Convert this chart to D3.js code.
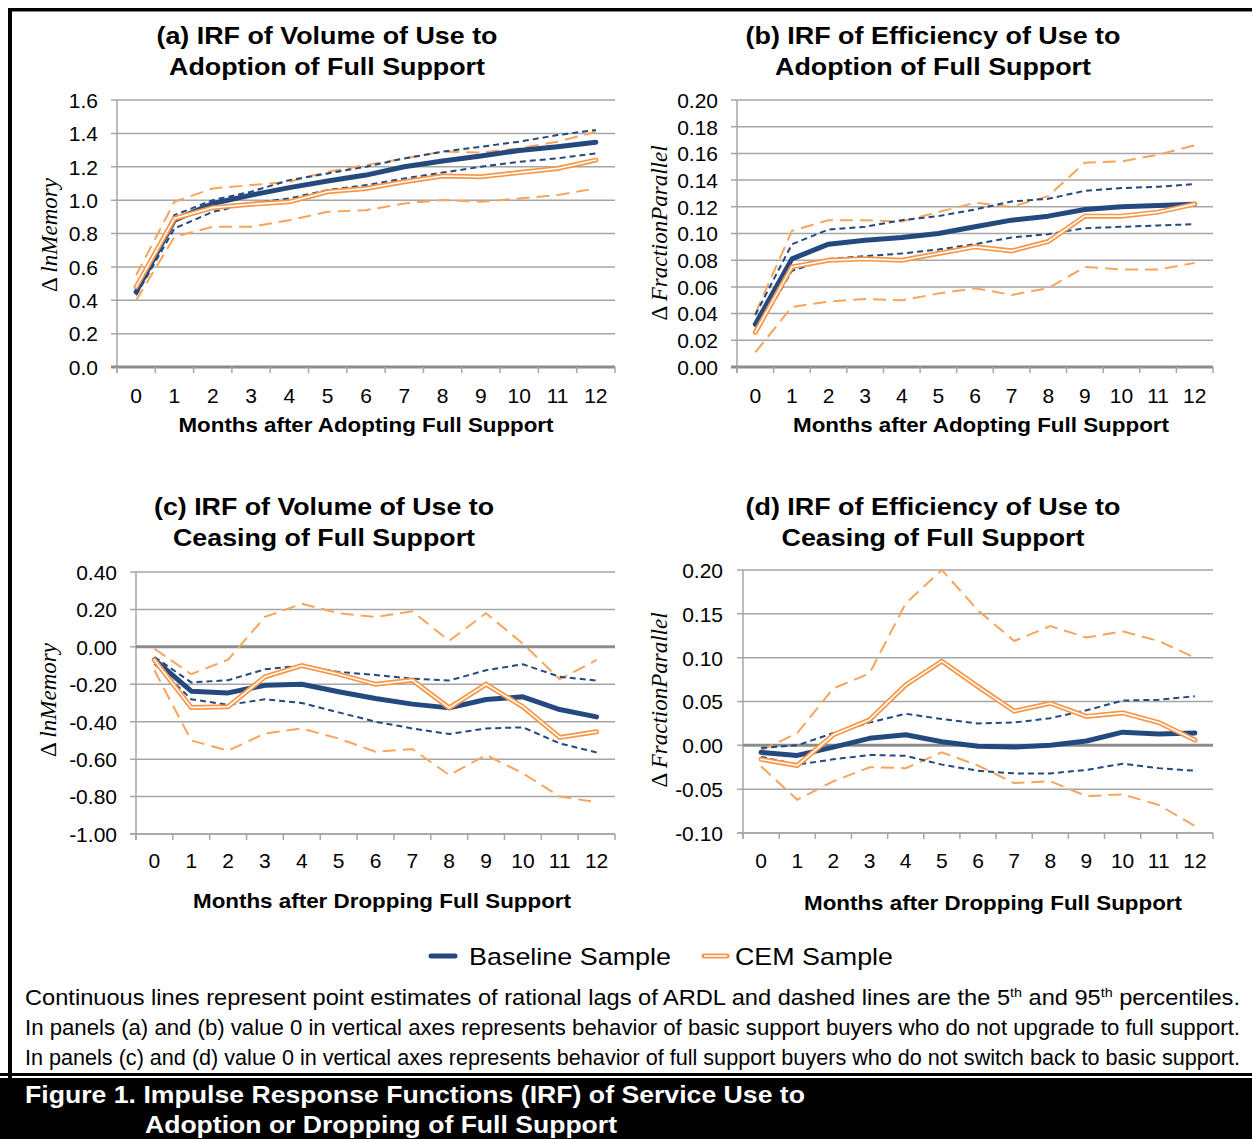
<!DOCTYPE html>
<html>
<head>
<meta charset="utf-8">
<script src="https://cdnjs.cloudflare.com/ajax/libs/d3/7.8.5/d3.min.js"></script>
<style>
  body { margin: 0; background: #fff; }
  svg { display: block; }
</style>
</head>
<body>
<div id="chart"></div>
<script>
// ---- data ----
var months = [0, 1, 2, 3, 4, 5, 6, 7, 8, 9, 10, 11, 12];

// (a) volume of use, adoption
var aBase   = [0.45, 0.88, 0.98, 1.03, 1.075, 1.115, 1.15, 1.20, 1.235, 1.265, 1.297, 1.32, 1.347];
var aBaseHi = [0.47, 0.91, 1.00, 1.05, 1.12, 1.16, 1.20, 1.25, 1.29, 1.32, 1.35, 1.39, 1.42];
var aBaseLo = [0.43, 0.83, 0.93, 0.98, 1.01, 1.06, 1.09, 1.13, 1.165, 1.20, 1.23, 1.25, 1.28];
var aCem    = [0.48, 0.89, 0.955, 0.975, 0.99, 1.05, 1.07, 1.11, 1.145, 1.14, 1.165, 1.19, 1.24];
var aCemHi  = [0.55, 0.99, 1.07, 1.09, 1.11, 1.17, 1.21, 1.25, 1.29, 1.285, 1.31, 1.35, 1.41];
var aCemLo  = [0.40, 0.78, 0.84, 0.84, 0.88, 0.93, 0.94, 0.98, 1.00, 0.99, 1.01, 1.03, 1.07];

// (b) efficiency of use, adoption
var bBase   = [0.032, 0.081, 0.092, 0.095, 0.097, 0.100, 0.105, 0.110, 0.113, 0.118, 0.120, 0.121, 0.122];
var bBaseHi = [0.039, 0.092, 0.103, 0.105, 0.110, 0.113, 0.118, 0.124, 0.126, 0.132, 0.134, 0.135, 0.137];
var bBaseLo = [0.025, 0.072, 0.081, 0.083, 0.085, 0.088, 0.092, 0.097, 0.0995, 0.104, 0.105, 0.106, 0.107];
var bCem    = [0.026, 0.075, 0.080, 0.081, 0.080, 0.085, 0.090, 0.087, 0.094, 0.113, 0.113, 0.116, 0.122];
var bCemHi  = [0.040, 0.102, 0.110, 0.110, 0.109, 0.116, 0.123, 0.120, 0.128, 0.153, 0.154, 0.159, 0.166];
var bCemLo  = [0.011, 0.045, 0.049, 0.051, 0.050, 0.055, 0.059, 0.054, 0.059, 0.075, 0.073, 0.073, 0.078];

// (c) volume of use, ceasing
var cBase   = [-0.068, -0.237, -0.246, -0.205, -0.20, -0.24, -0.276, -0.306, -0.326, -0.281, -0.267, -0.335, -0.374];
var cBaseHi = [-0.054, -0.19, -0.178, -0.12, -0.10, -0.134, -0.15, -0.17, -0.18, -0.125, -0.093, -0.16, -0.18];
var cBaseLo = [-0.09, -0.28, -0.31, -0.28, -0.30, -0.35, -0.40, -0.436, -0.466, -0.436, -0.43, -0.516, -0.564];
var cCem    = [-0.07, -0.324, -0.32, -0.16, -0.10, -0.146, -0.20, -0.178, -0.326, -0.20, -0.32, -0.484, -0.454];
var cCemHi  = [-0.01, -0.146, -0.068, 0.16, 0.23, 0.18, 0.16, 0.19, 0.032, 0.18, 0.017, -0.173, -0.07];
var cCemLo  = [-0.125, -0.50, -0.555, -0.463, -0.436, -0.49, -0.56, -0.546, -0.685, -0.578, -0.676, -0.80, -0.83];

// (d) efficiency of use, ceasing
var dBase   = [-0.008, -0.0115, -0.002, 0.008, 0.012, 0.004, -0.001, -0.002, 0.0, 0.005, 0.015, 0.013, 0.014];
var dBaseHi = [-0.003, 0.0, 0.014, 0.026, 0.036, 0.030, 0.025, 0.026, 0.031, 0.040, 0.051, 0.052, 0.056];
var dBaseLo = [-0.013, -0.022, -0.016, -0.011, -0.012, -0.022, -0.029, -0.032, -0.032, -0.028, -0.021, -0.026, -0.029];
var dCem    = [-0.016, -0.023, 0.012, 0.029, 0.069, 0.096, 0.067, 0.039, 0.048, 0.033, 0.037, 0.026, 0.006];
var dCemHi  = [-0.006, 0.014, 0.065, 0.082, 0.162, 0.20, 0.154, 0.119, 0.136, 0.123, 0.130, 0.119, 0.10];
var dCemLo  = [-0.024, -0.062, -0.041, -0.025, -0.026, -0.008, -0.023, -0.043, -0.041, -0.058, -0.056, -0.068, -0.092];

var aTicks = [0, 0.2, 0.4, 0.6, 0.8, 1.0, 1.2, 1.4, 1.6];
var bTicks = [0, 0.02, 0.04, 0.06, 0.08, 0.10, 0.12, 0.14, 0.16, 0.18, 0.20];
var cTicks = [-1.0, -0.8, -0.6, -0.4, -0.2, 0, 0.2, 0.4];
var dTicks = [-0.10, -0.05, 0, 0.05, 0.10, 0.15, 0.20];

var seriesNames = ["Baseline Sample", "CEM Sample"];

// ---- style ----
var NAVY = "#24497f", ORANGE = "#f79646", ORANGE_D = "#f8a45c";
var GRID = "#a6a6a6", AXIS = "#8c8c8c";
var SANS = "'Liberation Sans', Arial, sans-serif";
var SERIF = "'Liberation Serif', 'Times New Roman', serif";

var W = 1252, H = 1139;
var svg = d3.select("#chart").append("svg")
  .attr("width", W).attr("height", H);

var locale = d3.formatLocale({decimal: ".", thousands: ",", grouping: [3], currency: ["$", ""], minus: "-"});

// frame
svg.append("rect").attr("x", 8).attr("y", 8).attr("width", W - 8).attr("height", 3.5).attr("fill", "#000");
svg.append("rect").attr("x", 8).attr("y", 8).attr("width", 4).attr("height", 1070).attr("fill", "#000");
svg.append("rect").attr("x", 0).attr("y", 1073).attr("width", W).attr("height", 3).attr("fill", "#000");
svg.append("rect").attr("x", 0).attr("y", 1078).attr("width", W).attr("height", H - 1078).attr("fill", "#000");

function drawPanel(cfg) {
  var g = svg.append("g");
  var x = d3.scaleBand().domain(months).range([cfg.left, cfg.right]);
  var y = d3.scaleLinear().domain(cfg.domain).range([cfg.bottom, cfg.top]);
  var fmt = locale.format(cfg.fmt);

  // gridlines
  g.selectAll("line.grid").data(cfg.ticks).enter().append("line")
    .attr("x1", cfg.left - 6).attr("x2", cfg.right)
    .attr("y1", function(d) { return y(d); }).attr("y2", function(d) { return y(d); })
    .attr("stroke", GRID).attr("stroke-width", 1.5);

  // y axis line
  g.append("line").attr("x1", cfg.left).attr("x2", cfg.left)
    .attr("y1", cfg.top).attr("y2", cfg.bottom + 6)
    .attr("stroke", GRID).attr("stroke-width", 1.5);

  // y tick labels
  var yAxis = d3.axisLeft(y).tickValues(cfg.ticks).tickFormat(fmt).tickSize(0).tickPadding(0);
  var ya = g.append("g").attr("transform", "translate(" + cfg.ylab + ",0)").call(yAxis);
  ya.select(".domain").remove();
  ya.selectAll("text").attr("font-family", SANS).attr("font-size", 21).attr("fill", "#000").attr("dy", "0.35em");

  // bottom axis line + category boundary ticks
  var base = cfg.bottom;
  g.append("line").attr("x1", cfg.left - 6).attr("x2", cfg.right)
    .attr("y1", base).attr("y2", base)
    .attr("stroke", cfg.axisAtZero ? GRID : AXIS).attr("stroke-width", cfg.axisAtZero ? 1.5 : 3);
  g.selectAll("line.tk").data(d3.range(months.length + 1)).enter().append("line")
    .attr("x1", function(i) { return cfg.left + i * x.step(); })
    .attr("x2", function(i) { return cfg.left + i * x.step(); })
    .attr("y1", base).attr("y2", base + 6)
    .attr("stroke", GRID).attr("stroke-width", 1.5);

  if (cfg.axisAtZero) {
    g.append("line").attr("x1", cfg.left).attr("x2", cfg.right)
      .attr("y1", y(0)).attr("y2", y(0))
      .attr("stroke", AXIS).attr("stroke-width", 3);
  }

  // x tick labels
  var xAxis = d3.axisBottom(x).tickSize(0).tickPadding(0);
  var xa = g.append("g").attr("transform", "translate(0," + cfg.xlab + ")").call(xAxis);
  xa.select(".domain").remove();
  xa.selectAll("text").attr("font-family", SANS).attr("font-size", 21).attr("fill", "#000").attr("dy", 0);

  var line = d3.line()
    .x(function(d, i) { return x(months[i]) + x.bandwidth() / 2; })
    .y(function(d) { return y(d); });

  // CI dashed lines
  [cfg.cemHi, cfg.cemLo].forEach(function(s) {
    g.append("path").attr("d", line(s)).attr("fill", "none")
      .attr("stroke", ORANGE_D).attr("stroke-width", 2).attr("stroke-dasharray", "13,7");
  });
  [cfg.baseHi, cfg.baseLo].forEach(function(s) {
    g.append("path").attr("d", line(s)).attr("fill", "none")
      .attr("stroke", NAVY).attr("stroke-width", 2).attr("stroke-dasharray", "6,4");
  });

  // point estimates
  g.append("path").attr("d", line(cfg.base)).attr("fill", "none")
    .attr("stroke", NAVY).attr("stroke-width", 5).attr("stroke-linejoin", "round").attr("stroke-linecap", "round");
  g.append("path").attr("d", line(cfg.cem)).attr("fill", "none")
    .attr("stroke", ORANGE).attr("stroke-width", 5).attr("stroke-linecap", "round");
  g.append("path").attr("d", line(cfg.cem)).attr("fill", "none")
    .attr("stroke", "#fff").attr("stroke-width", 1.6).attr("stroke-linecap", "round");

  // titles
  cfg.title.forEach(function(t, i) {
    g.append("text").attr("x", cfg.tx).attr("y", cfg.ty + i * 31)
      .attr("text-anchor", "middle").attr("font-family", SANS).attr("font-weight", "bold")
      .attr("font-size", 24).attr("textLength", t[1]).attr("lengthAdjust", "spacingAndGlyphs")
      .text(t[0]);
  });
  g.append("text").attr("x", cfg.xtx).attr("y", cfg.xty)
    .attr("text-anchor", "middle").attr("font-family", SANS).attr("font-weight", "bold")
    .attr("font-size", 21).attr("textLength", cfg.xtw).attr("lengthAdjust", "spacingAndGlyphs")
    .text(cfg.xtitle);

  var yt = g.append("text")
    .attr("transform", "translate(" + cfg.ytx + "," + cfg.yty + ") rotate(-90)")
    .attr("text-anchor", "middle").attr("font-family", SERIF).attr("font-size", 23).attr("fill", "#000");
  yt.append("tspan").text("\u0394 ");
  yt.append("tspan").attr("font-style", "italic").text(cfg.ytitle);
}

drawPanel({
  left: 117, right: 615, top: 100, bottom: 367, domain: [0, 1.6], ticks: aTicks, fmt: ".1f",
  ylab: 98, xlab: 403, base: aBase, baseHi: aBaseHi, baseLo: aBaseLo, cem: aCem, cemHi: aCemHi, cemLo: aCemLo,
  title: [["(a) IRF of Volume of Use to", 341], ["Adoption of Full Support", 316]], tx: 327, ty: 44,
  xtitle: "Months after Adopting Full Support", xtx: 366, xty: 432, xtw: 375,
  ytitle: "lnMemory", ytx: 57, yty: 235
});
drawPanel({
  left: 737, right: 1213, top: 100, bottom: 367, domain: [0, 0.2], ticks: bTicks, fmt: ".2f",
  ylab: 718, xlab: 403, base: bBase, baseHi: bBaseHi, baseLo: bBaseLo, cem: bCem, cemHi: bCemHi, cemLo: bCemLo,
  title: [["(b) IRF of Efficiency of Use to", 375], ["Adoption of Full Support", 316]], tx: 933, ty: 44,
  xtitle: "Months after Adopting Full Support", xtx: 981, xty: 432, xtw: 376,
  ytitle: "FractionParallel", ytx: 667, yty: 233
});
drawPanel({
  left: 136, right: 615, top: 572, bottom: 834, domain: [-1, 0.4], ticks: cTicks, fmt: ".2f", axisAtZero: true,
  ylab: 117, xlab: 868, base: cBase, baseHi: cBaseHi, baseLo: cBaseLo, cem: cCem, cemHi: cCemHi, cemLo: cCemLo,
  title: [["(c) IRF of Volume of Use to", 340], ["Ceasing of Full Support", 302]], tx: 324, ty: 515,
  xtitle: "Months after Dropping Full Support", xtx: 382, xty: 908, xtw: 378,
  ytitle: "lnMemory", ytx: 56, yty: 700
});
drawPanel({
  left: 743, right: 1213, top: 570, bottom: 833, domain: [-0.1, 0.2], ticks: dTicks, fmt: ".2f", axisAtZero: true,
  ylab: 723, xlab: 868, base: dBase, baseHi: dBaseHi, baseLo: dBaseLo, cem: dCem, cemHi: dCemHi, cemLo: dCemLo,
  title: [["(d) IRF of Efficiency of Use to", 375], ["Ceasing of Full Support", 303]], tx: 933, ty: 515,
  xtitle: "Months after Dropping Full Support", xtx: 993, xty: 910, xtw: 378,
  ytitle: "FractionParallel", ytx: 667, yty: 700
});

// legend
var lg = svg.append("g");
lg.append("line").attr("x1", 431).attr("x2", 455).attr("y1", 956).attr("y2", 956)
  .attr("stroke", NAVY).attr("stroke-width", 5).attr("stroke-linecap", "round");
lg.append("text").attr("x", 469).attr("y", 965).attr("font-family", SANS).attr("font-size", 24)
  .attr("textLength", 202).attr("lengthAdjust", "spacingAndGlyphs").text(seriesNames[0]);
lg.append("line").attr("x1", 704).attr("x2", 727).attr("y1", 956).attr("y2", 956)
  .attr("stroke", ORANGE).attr("stroke-width", 5).attr("stroke-linecap", "round");
lg.append("line").attr("x1", 704).attr("x2", 727).attr("y1", 956).attr("y2", 956)
  .attr("stroke", "#fff").attr("stroke-width", 1.6);
lg.append("text").attr("x", 735).attr("y", 965).attr("font-family", SANS).attr("font-size", 24)
  .attr("textLength", 158).attr("lengthAdjust", "spacingAndGlyphs").text(seriesNames[1]);

// caption, squeezed to the narrow justified width of the original
var cap1 = svg.append("text").attr("x", 25).attr("y", 1005).attr("font-family", SANS).attr("font-size", 21.5)
  .attr("textLength", 1215).attr("lengthAdjust", "spacingAndGlyphs");
cap1.append("tspan").text("Continuous lines represent point estimates of rational lags of ARDL and dashed lines are the 5");
cap1.append("tspan").attr("font-size", 13).attr("dy", -8).text("th");
cap1.append("tspan").attr("dy", 8).text(" and 95");
cap1.append("tspan").attr("font-size", 13).attr("dy", -8).text("th");
cap1.append("tspan").attr("dy", 8).text(" percentiles.");
svg.append("text").attr("x", 25).attr("y", 1035).attr("font-family", SANS).attr("font-size", 21.5)
  .attr("textLength", 1215).attr("lengthAdjust", "spacingAndGlyphs")
  .text("In panels (a) and (b) value 0 in vertical axes represents behavior of basic support buyers who do not upgrade to full support.");
svg.append("text").attr("x", 25).attr("y", 1065).attr("font-family", SANS).attr("font-size", 21.5)
  .attr("textLength", 1215).attr("lengthAdjust", "spacingAndGlyphs")
  .text("In panels (c) and (d) value 0 in vertical axes represents behavior of full support buyers who do not switch back to basic support.");

// figure caption band
svg.append("text").attr("x", 25).attr("y", 1103).attr("fill", "#fff").attr("font-family", SANS)
  .attr("font-weight", "bold").attr("font-size", 24).attr("textLength", 780).attr("lengthAdjust", "spacingAndGlyphs")
  .text("Figure 1. Impulse Response Functions (IRF) of Service Use to");
svg.append("text").attr("x", 145).attr("y", 1133).attr("fill", "#fff").attr("font-family", SANS)
  .attr("font-weight", "bold").attr("font-size", 24).attr("textLength", 472).attr("lengthAdjust", "spacingAndGlyphs")
  .text("Adoption or Dropping of Full Support");
</script>
</body>
</html>
